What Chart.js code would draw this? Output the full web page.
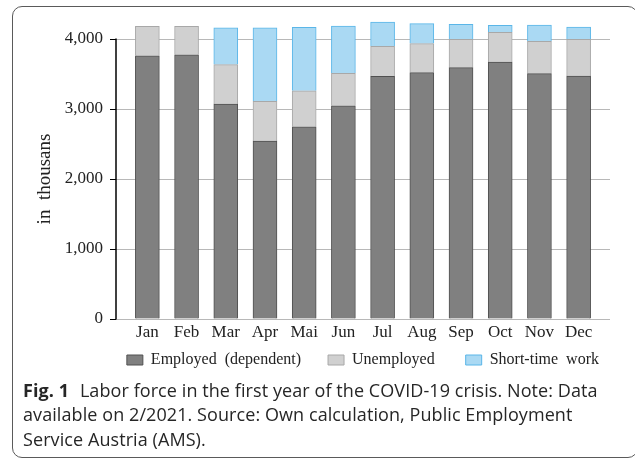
<!DOCTYPE html>
<html>
<head>
<meta charset="utf-8">
<script src="https://cdn.jsdelivr.net/npm/chart.js@4/dist/chart.umd.min.js"></script>
<style>
  html, body { margin: 0; padding: 0; background: #fff; }
  body { width: 635px; height: 462px; position: relative; overflow: hidden; }
  .card {
    position: absolute; left: 12px; top: 6px; width: 626px; height: 452px;
    border: 1.3px solid #5a5a5a; border-radius: 10px; box-sizing: border-box;
  }
  .chartBox { position: absolute; left: 0; top: 0; width: 635px; height: 382px; }
  .caption {
    position: absolute; left: 23px; top: 377.5px;
    font-family: "Open Sans", "Noto Sans", sans-serif; font-size: 18px;
    line-height: 24.5px; color: #262626; letter-spacing: 0.08px; white-space: nowrap;
  }
  .caption b { font-weight: 700; margin-right: 6px; }
</style>
</head>
<body>
<div class="card"></div>
<div class="chartBox"><canvas id="laborChart"></canvas></div>
<div class="caption"><b>Fig. 1</b> Labor force in the first year of the COVID-19 crisis. Note: Data<br>available on 2/2021. Source: Own calculation, Public Employment<br>Service Austria (AMS).</div>
<script>
// values in thousands
const months = ["Jan", "Feb", "Mar", "Apr", "Mai", "Jun", "Jul", "Aug", "Sep", "Oct", "Nov", "Dec"];
const employed = [3760, 3775, 3070, 2540, 2745, 3045, 3465, 3520, 3590, 3670, 3505, 3470];
const unemployed = [420, 405, 565, 570, 515, 465, 430, 415, 405, 425, 460, 525];
const shortTime = [0, 0, 525, 1050, 905, 675, 345, 285, 215, 100, 235, 175];
const yTicks = [0, 1000, 2000, 3000, 4000];

const toPoints = arr => arr.map((v, i) => ({ x: i, y: v }));

// solid y axis line from 0 to the top tick
const yAxisLine = {
  id: "yAxisLine",
  afterDraw(chart) {
    const y = chart.scales.y;
    const left = Math.round(chart.chartArea.left);
    const c = chart.ctx;
    c.save();
    c.setLineDash([]);
    c.strokeStyle = "#000000";
    c.lineWidth = 1.5;
    c.beginPath();
    c.moveTo(left, y.getPixelForValue(yTicks[yTicks.length - 1]) - 0.5);
    c.lineTo(left, y.getPixelForValue(0) + 0.5);
    c.stroke();
    c.restore();
  },
};

document.addEventListener("DOMContentLoaded", function () {
  const ctx = document.getElementById("laborChart");
  const serif = "'Liberation Serif', 'DejaVu Serif', serif";

  new Chart(ctx, {
    type: "bar",
    data: {
      datasets: [
        {
          // trailing spaces widen the gap between legend entries
          label: "Employed  (dependent)      ",
          data: toPoints(employed),
          backgroundColor: "#808080",
          borderColor: "#505050",
          borderWidth: 1,
        },
        {
          label: "Unemployed       ",
          data: toPoints(unemployed),
          backgroundColor: "#d0d0d0",
          borderColor: "#a8a8a8",
          borderWidth: 1,
        },
        {
          label: "Short-time  work  ",
          data: toPoints(shortTime),
          backgroundColor: "#aad9f3",
          borderColor: "#5ab6e8",
          borderWidth: 1,
        },
      ],
    },
    plugins: [yAxisLine],
    options: {
      responsive: true,
      maintainAspectRatio: false,
      animation: false,
      barThickness: 24,
      clip: false,
      layout: { padding: { top: 39, right: 25, left: 0, bottom: 4 } },
      plugins: {
        tooltip: { enabled: false },
        legend: {
          position: "bottom",
          align: "end",
          labels: {
            boxWidth: 16,
            boxHeight: 10,
            padding: 3,
            color: "#222",
            font: { family: serif, size: 16 },
          },
        },
      },
      scales: {
        x: {
          type: "linear",
          offset: false,
          stacked: true,
          min: -0.8,
          max: 11.8,
          afterBuildTicks: function (scale) {
            scale.ticks = months.map((m, i) => ({ value: i }));
          },
          afterFit: function (scale) {
            scale.height = 30;
          },
          grid: { display: false, drawTicks: false },
          border: { display: false },
          ticks: {
            autoSkip: false,
            maxRotation: 0,
            padding: 3,
            color: "#222",
            font: { family: serif, size: 17 },
            callback: function (value) {
              return months[value];
            },
          },
        },
        y: {
          stacked: true,
          min: 0,
          max: 4000,
          afterBuildTicks: function (scale) {
            scale.ticks = yTicks.map(v => ({ value: v }));
          },
          afterFit: function (scale) {
            scale.width = 116;
          },
          border: { display: false },
          grid: {
            color: "#b8b8b8",
            lineWidth: 1,
            borderDash: [1, 2],
            tickLength: 6,
            tickColor: "#000",
            tickBorderDash: [],
          },
          ticks: {
            padding: 7,
            color: "#222",
            font: { family: serif, size: 17 },
            callback: function (value) {
              return value.toLocaleString("en-US");
            },
          },
          title: {
            display: true,
            text: "in  thousans",
            color: "#222",
            padding: { top: 34, bottom: 0 },
            font: { family: serif, size: 19 },
          },
        },
      },
    },
  });
});
</script>
</body>
</html>
